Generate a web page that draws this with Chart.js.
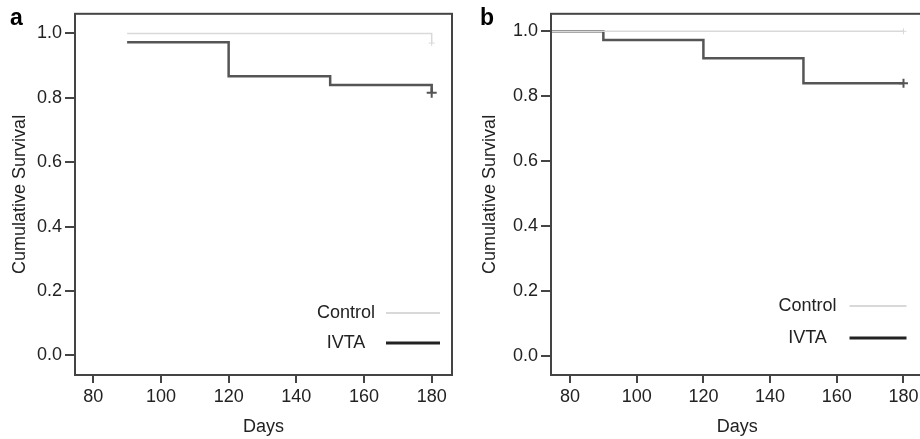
<!DOCTYPE html>
<html>
<head>
<meta charset="utf-8">
<script src="https://cdn.jsdelivr.net/npm/chart.js@4.4.1/dist/chart.umd.min.js"></script>
<style>
body { margin: 0; background: #fff; overflow: hidden; width: 920px; height: 439px; position: relative; }
canvas { position: absolute; top: 0; }
#chartA { left: 0; }
#chartB { left: 460px; }
</style>
</head>
<body>
<canvas id="chartA" width="460" height="439"></canvas>
<canvas id="chartB" width="470" height="439"></canvas>
<script>
const xTicks = [80, 100, 120, 140, 160, 180];
const yTicks = [0, 0.2, 0.4, 0.6, 0.8, 1.0];
const seriesNames = ["Control", "IVTA"];

// panel a
const aControlDays = [90, 180];
const aControlSurv = [1.0, 0.97];
const aIvtaDays = [90, 120, 150, 180];
const aIvtaSurv = [0.973, 0.867, 0.84, 0.816];

// panel b
const bControlDays = [0, 180];
const bControlSurv = [1.0, 1.0];
const bIvtaDays = [0, 90, 120, 150, 180];
const bIvtaSurv = [1.0, 0.973, 0.917, 0.84, 0.84];

const FONT = "'Liberation Sans', Arial, Helvetica, sans-serif";
const ink = "#222";
const axisCol = "#444";

const toPoints = (xs, ys) => xs.map((x, i) => ({ x: x, y: ys[i] }));

// box round the plot, panel letter and the legend inside
const frame = {
    id: "frame",
    afterDatasetsDraw(chart, args, opts) {
        const { ctx, chartArea: a } = chart;
        ctx.save();
        ctx.strokeStyle = axisCol;
        ctx.lineWidth = 2;
        ctx.strokeRect(a.left, a.top, a.right - a.left, a.bottom - a.top);

        ctx.fillStyle = "#000";
        ctx.font = "bold 23px " + FONT;
        ctx.textAlign = "left";
        ctx.textBaseline = "alphabetic";
        ctx.fillText(opts.letter, opts.letterX, 25);

        const lg = opts.legend;
        ctx.font = "18px " + FONT;
        ctx.textAlign = "center";
        ctx.textBaseline = "middle";
        chart.data.datasets.forEach((ds, i) => {
            const y = a.bottom - lg.rows[i];
            ctx.fillStyle = ink;
            ctx.fillText(ds.label, a.right - lg.text, y);
            ctx.strokeStyle = lg.colors[i];
            ctx.lineWidth = lg.widths[i];
            ctx.beginPath();
            ctx.moveTo(a.right - lg.line0, y);
            ctx.lineTo(a.right - lg.line1, y);
            ctx.stroke();
        });
        ctx.restore();
    }
};

function lastOnly(size) {
    return (c) => (c.dataIndex === c.dataset.data.length - 1 ? size : 0);
}

function makeChart(id, ctlDays, ctlSurv, ivDays, ivSurv, lay) {
    const tickFont = { family: FONT, size: 18 };
    return new Chart(document.getElementById(id), {
        type: "line",
        data: {
            datasets: [
                {
                    label: seriesNames[0],
                    data: toPoints(ctlDays, ctlSurv),
                    borderColor: "#d9d9d9",
                    borderWidth: 1.5,
                    stepped: true,
                    pointStyle: "cross",
                    pointRadius: lastOnly(3),
                    pointBorderColor: "#d9d9d9",
                    pointBorderWidth: 1,
                },
                {
                    label: seriesNames[1],
                    data: toPoints(ivDays, ivSurv),
                    borderColor: "#555",
                    borderWidth: 2.5,
                    stepped: true,
                    pointStyle: "cross",
                    pointRadius: lastOnly(lay.cross),
                    pointBorderColor: "#555",
                    pointBorderWidth: 2,
                },
            ],
        },
        options: {
            responsive: false,
            animation: false,
            layout: { padding: { top: lay.top, right: lay.right, left: 0, bottom: 0 } },
            plugins: {
                legend: { display: false },
                tooltip: { enabled: false },
                frame: { letter: lay.letter, letterX: lay.letterX, legend: lay.legend },
            },
            scales: {
                x: {
                    type: "linear",
                    min: lay.xMin,
                    max: lay.xMax,
                    afterBuildTicks: (s) => { s.ticks = xTicks.map((v) => ({ value: v })); },
                    afterFit: (s) => { s.height = 64; },
                    border: { display: false },
                    grid: { drawOnChartArea: false, drawTicks: true, tickLength: 8, lineWidth: 2, color: axisCol, tickColor: axisCol },
                    ticks: { font: tickFont, color: ink, padding: 3, maxRotation: 0, autoSkip: false },
                    title: { display: true, text: "Days", font: tickFont, color: ink, padding: { top: 0, bottom: 1 } },
                },
                y: {
                    type: "linear",
                    min: lay.yMin,
                    max: lay.yMax,
                    afterBuildTicks: (s) => { s.ticks = yTicks.map((v) => ({ value: v })); },
                    afterFit: (s) => { s.width = lay.yWidth; },
                    border: { display: false },
                    grid: { drawOnChartArea: false, drawTicks: true, tickLength: 10, lineWidth: 2, color: axisCol, tickColor: axisCol },
                    ticks: { font: tickFont, color: ink, padding: 3, callback: (v) => v.toFixed(1) },
                    title: { display: true, text: "Cumulative Survival", font: tickFont, color: ink, padding: { top: lay.titlePad, bottom: 0 } },
                },
            },
        },
        plugins: [frame],
    });
}

makeChart("chartA", aControlDays, aControlSurv, aIvtaDays, aIvtaSurv, {
    letter: "a", letterX: 10,
    top: 7, right: 8, yWidth: 75,
    xMin: 74.6, xMax: 186, yMin: -0.061, yMax: 1.061,
    cross: 5, titlePad: 9,
    legend: { text: 106, line0: 66, line1: 12, rows: [62, 32], colors: ["#d9d9d9", "#222"], widths: [2, 3] },
});

makeChart("chartB", bControlDays, bControlSurv, bIvtaDays, bIvtaSurv, {
    letter: "b", letterX: 20,
    top: 9, right: 1, yWidth: 91,
    xMin: 74.3, xMax: 186, yMin: -0.058, yMax: 1.054,
    cross: 4.5, titlePad: 19,
    legend: { text: 116, line0: 74, line1: 17, rows: [69, 37], colors: ["#d9d9d9", "#222"], widths: [2, 3] },
});
</script>
</body>
</html>
